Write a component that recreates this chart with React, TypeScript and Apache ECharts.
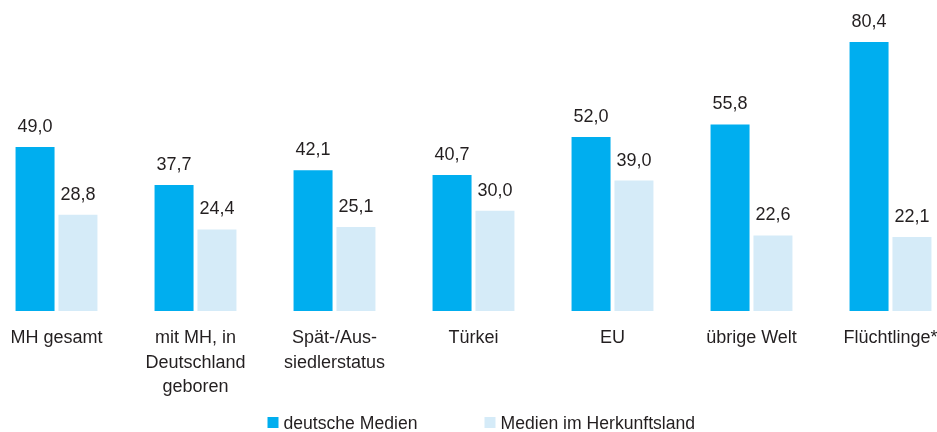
import React, { useEffect, useRef } from "react";
import * as echarts from "echarts";

const categories = [
  "MH gesamt",
  "mit MH, in\nDeutschland\ngeboren",
  "Spät-/Aus-\nsiedlerstatus",
  "Türkei",
  "EU",
  "übrige Welt",
  "Flüchtlinge*",
];
const deutscheMedien = [49.0, 37.7, 42.1, 40.7, 52.0, 55.8, 80.4];
const medienHerkunftsland = [28.8, 24.4, 25.1, 30.0, 39.0, 22.6, 22.1];
const seriesNames = ["deutsche Medien", "Medien im Herkunftsland"];

const FONT = "'Liberation Sans', Arial, sans-serif";
const TEXT = "#231f20";
const SHIFT = 13.5;

export default function App() {
  const ref = useRef<HTMLDivElement>(null);
  useEffect(() => {
    if (!ref.current) return;
    const chart = echarts.init(ref.current, undefined, { renderer: "svg" });
    const fmt = (p: any) => Number(p.value).toFixed(1).replace(".", ",");
    const label = {
      show: true,
      position: "top" as const,
      distance: 12,
      formatter: fmt,
      color: TEXT,
      fontSize: 18,
      fontFamily: FONT,
    };
    chart.setOption({
      animation: false,
      textStyle: { fontFamily: FONT },
      legend: {
        left: 267 + SHIFT,
        top: 413.5,
        padding: 0,
        itemWidth: 11,
        itemHeight: 11,
        itemGap: 67,
        icon: "rect",
        textStyle: { color: TEXT, fontSize: 17.6, fontFamily: FONT },
        data: seriesNames,
      },
      grid: { left: 0, width: 973, top: 10, height: 301, containLabel: false },
      xAxis: {
        type: "category",
        data: categories,
        axisLine: { show: false },
        axisTick: { show: false },
        axisLabel: {
          color: TEXT,
          fontSize: 18,
          fontFamily: FONT,
          lineHeight: 24.5,
          margin: 14,
          interval: 0,
        },
      },
      yAxis: {
        type: "value",
        min: 0,
        max: 90,
        show: false,
        splitLine: { show: false },
      },
      series: [
        {
          name: seriesNames[0],
          type: "bar",
          data: deutscheMedien,
          barWidth: 39,
          barGap: "10%",
          itemStyle: { color: "#00aeef" },
          label,
        },
        {
          name: seriesNames[1],
          type: "bar",
          data: medienHerkunftsland,
          barWidth: 39,
          itemStyle: { color: "#d5ebf8" },
          label,
        },
      ],
    });
    return () => chart.dispose();
  }, []);
  return (
    <div
      style={{
        position: "fixed",
        left: 0,
        top: 0,
        width: 937,
        height: 432,
        overflow: "hidden",
      }}
    >
      <div
        ref={ref}
        style={{ position: "absolute", left: -SHIFT, top: 0, width: 990, height: 432 }}
      />
    </div>
  );
}
